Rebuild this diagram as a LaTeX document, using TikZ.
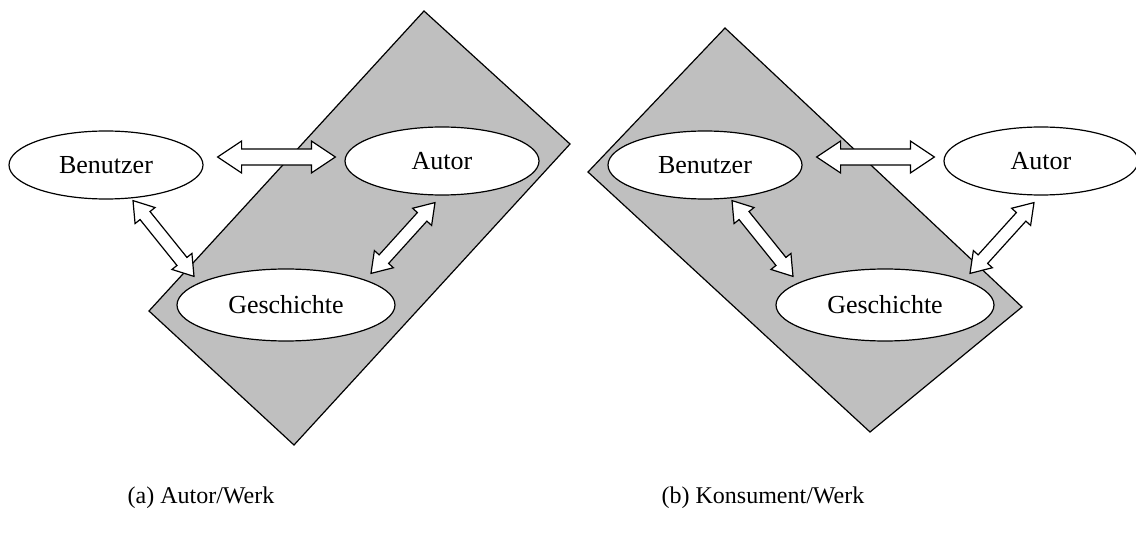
\documentclass[tikz,border=0pt]{standalone}
\usepackage{fontspec}
\setmainfont{Liberation Serif}
\usetikzlibrary{shapes.geometric,calc}

\newcommand\dblarrow[3][1]{%
\draw[blockarrow] let \p1=(#2), \p2=(#3), \n1={atan2(\y2-\y1,\x2-\x1)} in
  (\p1) -- ($(\p1)+(\n1:{24pt*#1})+(\n1+90:{16pt*#1})$) -- ($(\p1)+(\n1:{24pt*#1})+(\n1+90:{8pt*#1})$)
  -- ($(\p2)+(\n1:{-24pt*#1})+(\n1+90:{8pt*#1})$) -- ($(\p2)+(\n1:{-24pt*#1})+(\n1+90:{16pt*#1})$) -- (\p2)
  -- ($(\p2)+(\n1:{-24pt*#1})+(\n1-90:{16pt*#1})$) -- ($(\p2)+(\n1:{-24pt*#1})+(\n1-90:{8pt*#1})$)
  -- ($(\p1)+(\n1:{24pt*#1})+(\n1-90:{8pt*#1})$) -- ($(\p1)+(\n1:{24pt*#1})+(\n1-90:{16pt*#1})$) -- cycle;}

\begin{document}
\begin{tikzpicture}[x=1pt,y=-1pt,
  every node/.style={font=\fontsize{26}{30}\selectfont},
  entity/.style={ellipse,draw,fill=white,line width=1.2pt,inner sep=0pt,minimum width=194pt,minimum height=68pt},
  story/.style={entity,minimum width=218pt,minimum height=72pt},
  field/.style={draw,fill=black!25,line width=1.2pt,line join=miter},
  blockarrow/.style={draw,fill=white,line width=1.2pt,line join=miter},
  caption/.style={font=\fontsize{24}{28}\selectfont}]
\useasboundingbox (0,0) rectangle (1136,540);

\draw[field] (424,11) -- (570,144) -- (294,445) -- (149,311) -- cycle;
\node[entity] (benA) at (106,165) {Benutzer};
\node[entity] (autA) at (442,161) {Autor};
\node[story] (gesA) at (286,305) {Geschichte};
\dblarrow{$(benA.east)+(14,-8)$}{$(autA.west)+(-9,-4)$}
\dblarrow[0.8]{$(benA.south)+(27,1)$}{$(gesA.north)+(-92,8)$}
\dblarrow[0.8]{$(autA.south)+(-7,7)$}{$(gesA.north)+(85,5)$}
\node[caption] (capA) at (201,498) {(a) Autor/Werk};

\begin{scope}[shift={(599,0)}]
\draw[field] (-11,172) -- (126,28) -- (423,307) -- (271,432) -- cycle;
\node[entity] (benB) at (106,165) {Benutzer};
\node[entity] (autB) at (442,161) {Autor};
\node[story] (gesB) at (286,305) {Geschichte};
\dblarrow{$(benB.east)+(14,-8)$}{$(autB.west)+(-9,-4)$}
\dblarrow[0.8]{$(benB.south)+(27,1)$}{$(gesB.north)+(-92,8)$}
\dblarrow[0.8]{$(autB.south)+(-7,7)$}{$(gesB.north)+(85,5)$}
\node[caption] (capB) at (164,498) {(b) Konsument/Werk};
\end{scope}
\end{tikzpicture}
\end{document}
